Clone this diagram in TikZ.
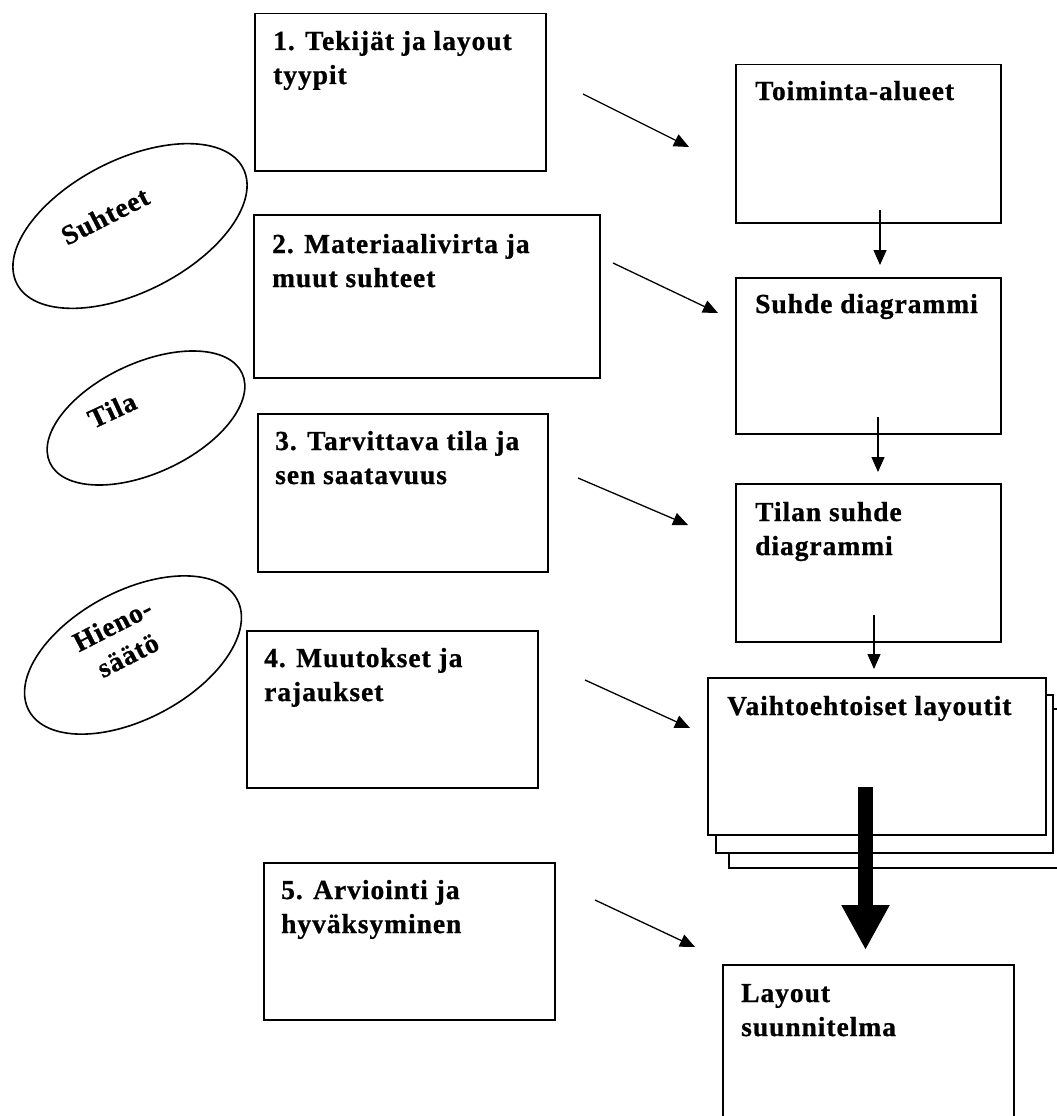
\documentclass[tikz,border=0pt]{standalone}
\usepackage{fontspec}
\setmainfont{Liberation Serif}[LetterSpace=3.5, BoldFeatures={FakeBold=0.8}]
\usetikzlibrary{arrows.meta,shapes.geometric}
\begin{document}
\begin{tikzpicture}[x=1pt,y=-1pt,
  box/.style={draw, line width=1.5pt, fill=white, anchor=north west, inner sep=0pt},
  lbl/.style={font=\bfseries\fontsize{27.5}{34}\selectfont, align=left, inner sep=0pt, anchor=base west},
  ell/.style={draw, ellipse, line width=1.6pt, inner sep=0pt},
  elbl/.style={font=\bfseries\fontsize{27.5}{34}\selectfont, align=center, inner sep=0pt},
  arr/.style={line width=1.3pt, -{Triangle[length=15pt,width=13pt]}},
  big/.style={line width=15pt, -{Triangle[length=45pt,width=45pt]}}]
\useasboundingbox (0,0) rectangle (1057,1116);
\fill[white] (0,0) rectangle (1057,1116);
\clip (0,0) rectangle (1057,1116);

% ellipses
\node[ell, rotate=27, minimum width=254pt, minimum height=132pt] (e1) at (130,226) {};
\node[elbl, rotate=27] (e1t) at (105,216) {Suhteet};
\node[ell, rotate=25, minimum width=212pt, minimum height=110pt] (e2) at (146,418) {};
\node[elbl, rotate=25] (e2t) at (112,410) {Tila};
\node[ell, rotate=28, minimum width=236pt, minimum height=128pt] (e3) at (133,655) {};
\node[elbl, rotate=27] (e3t) at (120,640) {Hieno-\\säätö};

% left boxes
\node[box, minimum width=291pt, minimum height=157pt] (b1) at (254,13) {};
\node[box, minimum width=346pt, minimum height=163pt] (b2) at (253,214) {};
\node[box, minimum width=290pt, minimum height=158pt] (b3) at (257,413) {};
\node[box, minimum width=291pt, minimum height=157pt] (b4) at (246,630) {};
\node[box, minimum width=291pt, minimum height=157pt] (b5) at (263,862) {};

% right column
\node[box, minimum width=265pt, minimum height=158pt] (r1) at (735,64) {};
\node[box, minimum width=265pt, minimum height=156pt] (r2) at (735,277) {};
\node[box, minimum width=265pt, minimum height=158pt] (r3) at (735,483) {};
\node[box, minimum width=360pt, minimum height=159pt] (r4c) at (728,708) {};
\node[box, minimum width=337pt, minimum height=158pt] (r4b) at (715,694) {};
\node[box, minimum width=338pt, minimum height=157pt] (r4) at (707,677) {};
\node[box, minimum width=291pt, minimum height=200pt] (r5) at (722,964) {};

% texts (base anchor = last line)
\node[lbl] (t1) at (273,84) {1. Tekijät ja layout\\tyypit};
\node[lbl] (t2) at (272,287) {2. Materiaalivirta ja\\muut suhteet};
\node[lbl] (t3) at (275,484) {3. Tarvittava tila ja\\sen saatavuus};
\node[lbl] (t4) at (264,701) {4. Muutokset ja\\rajaukset};
\node[lbl] (t5) at (281,933) {5. Arviointi ja\\hyväksyminen};
\node[lbl] (s1) at (755,100) {Toiminta-alueet};
\node[lbl] (s2) at (755,313) {Suhde diagrammi};
\node[lbl] (s3) at (755,555) {Tilan suhde\\diagrammi};
\node[lbl] (s4) at (727,715) {Vaihtoehtoiset layoutit};
\node[lbl] (s5) at (741,1036) {Layout\\suunnitelma};

% diagonal arrows
\coordinate (a1s) at (583,94);  \coordinate (a1e) at (689,147);
\coordinate (a2s) at (613,263); \coordinate (a2e) at (718,313);
\coordinate (a3s) at (578,478); \coordinate (a3e) at (688,525);
\coordinate (a4s) at (585,680); \coordinate (a4e) at (690,728);
\coordinate (a5s) at (595,900); \coordinate (a5e) at (695,947);
\draw[arr] (a1s) -- (a1e);
\draw[arr] (a2s) -- (a2e);
\draw[arr] (a3s) -- (a3e);
\draw[arr] (a4s) -- (a4e);
\draw[arr] (a5s) -- (a5e);

% vertical arrows
\coordinate (v1s) at (880,210);
\coordinate (v2s) at (878,417);
\coordinate (v3s) at (874,615);
\coordinate (v4s) at (865.5,787);
\draw[arr, shorten >=12pt] (v1s) -- (v1s |- r2.north);
\draw[arr, shorten >=11pt] (v2s) -- (v2s |- r3.north);
\draw[arr, shorten >=8pt] (v3s) -- (v3s |- r4.north);
\draw[big, shorten >=14pt] (v4s) -- (v4s |- r5.north);
\end{tikzpicture}
\end{document}
